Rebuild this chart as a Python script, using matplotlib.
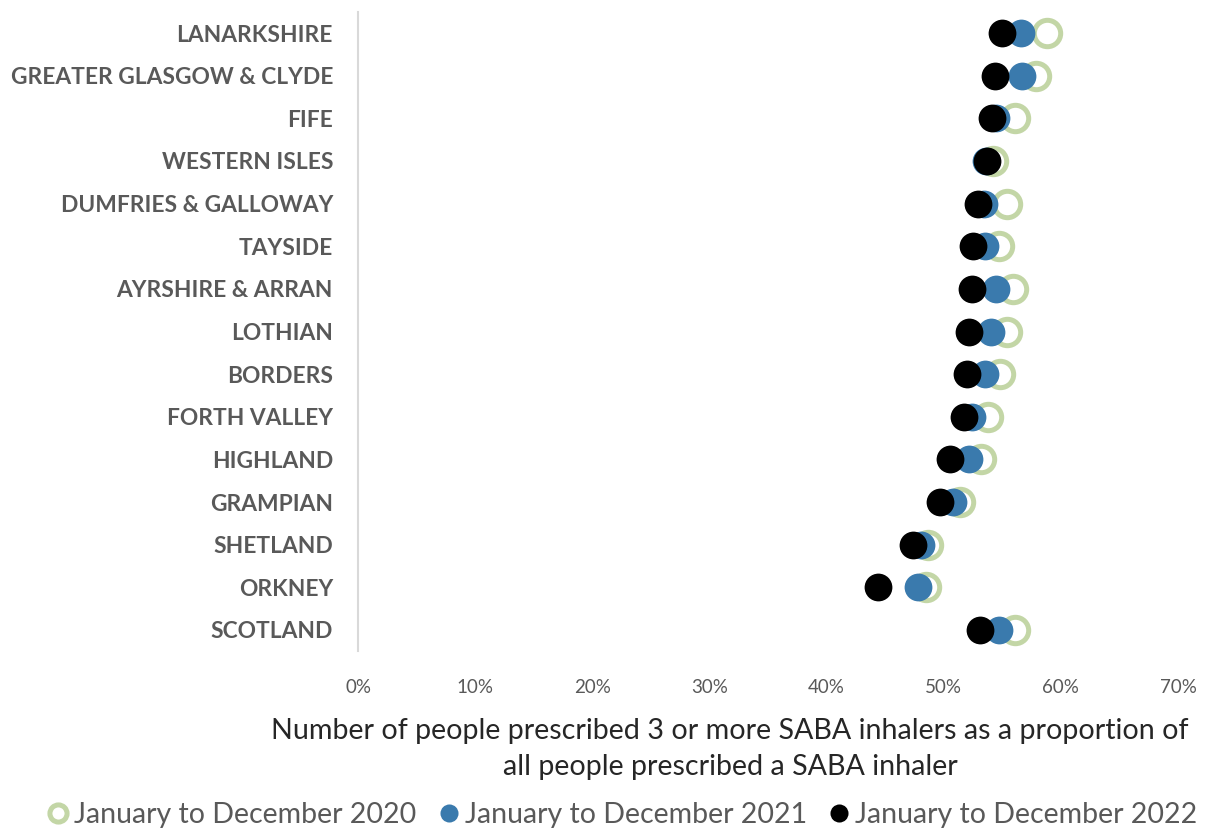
import matplotlib.pyplot as plt
from matplotlib.ticker import PercentFormatter

# SABA over-prescribing by NHS board, three calendar years
boards = ["LANARKSHIRE", "GREATER GLASGOW & CLYDE", "FIFE", "WESTERN ISLES",
          "DUMFRIES & GALLOWAY", "TAYSIDE", "AYRSHIRE & ARRAN", "LOTHIAN",
          "BORDERS", "FORTH VALLEY", "HIGHLAND", "GRAMPIAN", "SHETLAND",
          "ORKNEY", "SCOTLAND"]
y2020 = [58.8, 57.9, 56.1, 54.2, 55.4, 54.7, 55.9, 55.4, 54.8, 53.8, 53.2, 51.4, 48.7, 48.5, 56.1]
y2021 = [56.6, 56.7, 54.5, 53.6, 53.4, 53.5, 54.5, 54.0, 53.5, 52.4, 52.2, 50.8, 48.1, 47.8, 54.7]
y2022 = [55.0, 54.4, 54.1, 53.7, 52.9, 52.5, 52.4, 52.2, 52.0, 51.7, 50.5, 49.7, 47.4, 44.4, 53.1]
series_labels = ["January to December 2020", "January to December 2021",
                 "January to December 2022"]

GREEN = "#c3d6a6"
BLUE = "#3a7aad"
BLACK = "#000000"
TEXT = "#595959"

plt.rcParams["font.family"] = ["Lato", "DejaVu Sans"]

fig = plt.figure(figsize=(12.28, 8.33), dpi=100)
ax = fig.add_axes([358 / 1228, 1 - 651.3 / 833, 820 / 1228, 639.6 / 833])

ypos = list(range(len(boards)))

h1, = ax.plot(y2020, ypos, "o", ls="none", ms=19, mfc="none", mec=GREEN,
              mew=3.6, zorder=2, label=series_labels[0])
h2, = ax.plot(y2021, ypos, "o", ls="none", ms=20, mfc=BLUE, mec="none",
              zorder=3, label=series_labels[1])
h3, = ax.plot(y2022, ypos, "o", ls="none", ms=20, mfc=BLACK, mec="none",
              zorder=4, label=series_labels[2])

ax.set_xlim(0, 70)
ax.set_xticks(range(0, 71, 10))
ax.xaxis.set_major_formatter(PercentFormatter(decimals=0))
ax.set_ylim(len(boards) - 0.5, -0.5)
ax.set_yticks(ypos)
ax.set_yticklabels(boards, fontsize=16.4, fontweight="bold", color=TEXT)

ax.tick_params(axis="y", length=0, pad=18)
ax.tick_params(axis="x", length=0, pad=20, labelsize=13.5, labelcolor=TEXT)
for side in ["top", "right", "bottom"]:
    ax.spines[side].set_visible(False)
ax.spines["left"].set_color("#d9d9d9")
ax.spines["left"].set_linewidth(1.5)

fig.text(730 / 1228, 1 - 749 / 833,
         "Number of people prescribed 3 or more SABA inhalers as a proportion of\n"
         "all people prescribed a SABA inhaler",
         ha="center", va="center", fontsize=20.6, color="#262626",
         linespacing=1.5, multialignment="center")

fig.legend(handles=[h1, h2, h3], loc="center", bbox_to_anchor=(620 / 1228, 1 - 815 / 833),
           ncol=3, frameon=False, fontsize=20.5, markerscale=0.65,
           handletextpad=0.0, columnspacing=0.6, handlelength=1.1,
           labelcolor=TEXT)

fig.savefig("out.png", dpi=100)
